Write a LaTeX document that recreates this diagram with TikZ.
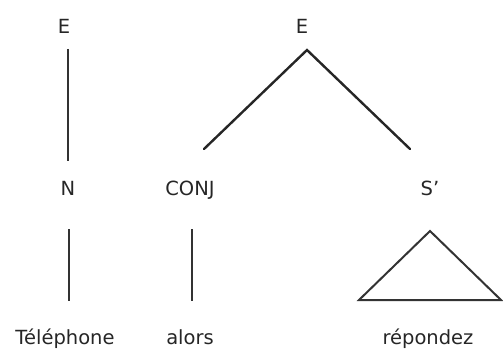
\documentclass[tikz,border=0pt]{standalone}
\usepackage{fontspec}
\setmainfont{DejaVu Sans}
\begin{document}
\begin{tikzpicture}[x=1pt,y=-1pt,
  lab/.style={font=\fontsize{19.5}{19.5}\selectfont, inner sep=0pt, anchor=base, text=black!85},
  branch/.style={line width=2.4pt, line cap=round, black!85},
  stem/.style={line width=1.6pt, black!80}]
\useasboundingbox (0,0) rectangle (503,350);
% labels
\node[lab] (E1) at (64,34) {E};
\node[lab] (E2) at (302,34) {E};
\node[lab] (N) at (68,195) {N};
\node[lab] (CONJ) at (190,195) {CONJ};
\node[lab] (S) at (430,195) {S'};
\node[lab] (w1) at (65,344) {Téléphone};
\node[lab] (w2) at (190,344) {alors};
\node[lab] (w3) at (428,344) {répondez};
% connector ends
\coordinate (e1b) at (68,49);
\coordinate (e1n) at (68,161);
\coordinate (apex) at (307,50);
\coordinate (cl) at (204,149);
\coordinate (cr) at (410,149);
\coordinate (nt) at (69,229);
\coordinate (nb) at (69,301);
\coordinate (ct) at (192,229);
\coordinate (cb) at (192,301);
\coordinate (ta) at (430,231);
\coordinate (tl) at (359,300);
\coordinate (tr) at (501,300);
% connectors
\draw[stem, line width=2pt] (e1b) -- (e1n);
\draw[branch] (cl) -- (apex) -- (cr);
\draw[stem] (nt) -- (nb);
\draw[stem] (ct) -- (cb);
\draw[stem, line width=2pt, line join=miter] (ta) -- (tl) -- (tr) -- cycle;
\end{tikzpicture}
\end{document}
